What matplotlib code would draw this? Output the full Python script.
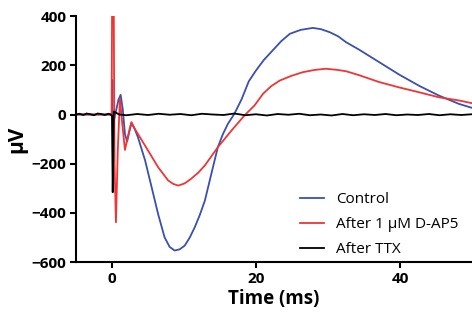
import numpy as np
import matplotlib.pyplot as plt

plt.rcParams['font.family'] = ['Open Sans', 'DejaVu Sans']

# Control (azul)
t_control = [-5, -2, -0.2, 0.0, 0.05, 0.15, 0.3, 0.6, 0.9, 1.2, 1.5, 1.8, 2.1, 2.4, 2.7,
             3.1, 3.6, 4.6, 5.5, 6.4, 7.3, 8.0, 8.7, 9.4, 10.1, 10.8, 11.5, 12.2, 12.9,
             13.8, 14.7, 15.4, 16.1, 17.0, 18.0, 19.0, 20.0, 21.1, 22.3, 23.5, 24.7,
             26.2, 27.9, 29.0, 30.2, 31.4, 32.5, 34.3, 37.1, 39.9, 42.7, 45.4, 48.2, 50]
v_control = [0, 0, 0, 0, 140, -250, -20, 20, 60, 80, 20, -80, -110, -70, -35,
             -55, -92, -187, -295, -404, -499, -538, -553, -548, -533, -500, -458, -408, -350,
             -241, -133, -80, -38, 3, 62, 135, 179, 222, 260, 298, 328,
             344, 352, 347, 335, 318, 294, 264, 213, 162, 116, 77, 43, 27]

# After 1 uM D-AP5 (rojo)
t_dap5 = [-5, -2, -0.2, -0.05, 0.05, 0.2, 0.35, 0.55, 0.8, 1.1, 1.4, 1.8, 2.2, 2.7,
          3.1, 3.6, 5.0, 6.4, 7.8, 8.5, 9.2, 10.1, 11.0, 12.0, 12.9, 14.7, 16.6, 18.4,
          19.8, 21.0, 22.1, 23.3, 24.9, 26.5, 28.1, 29.7, 31.1, 32.5, 34.3, 37.1, 39.9,
          42.7, 45.4, 48.2, 50]
v_dap5 = [0, 0, 0, 0, 700, 700, -200, -438, -150, 65, -30, -144, -90, -31,
          -55, -79, -146, -214, -268, -282, -289, -280, -261, -236, -207, -133, -65, -4,
          37, 85, 115, 138, 157, 172, 181, 186, 182, 176, 160, 132, 110, 90, 70, 57, 46]

# After TTX (negro)
t_ttx = [-5, -4.5, -4, -3.5, -3, -2.5, -2, -1.5, -1, -0.5, -0.2, 0.0, 0.1, 0.25, 0.5, 1.0,
         2, 3.5, 5, 6.5, 8, 9.5, 11, 12.5, 14, 15.5, 17, 18.5, 20, 21.5, 23, 24.5, 26,
         27.5, 29, 30.5, 32, 33.5, 35, 36.5, 38, 39.5, 41, 42.5, 44, 45.5, 47, 48.5, 50]
v_ttx = [0, 3, -2, 4, 1, -3, 4, 2, -2, 3, 0, -5, -316, 12, 8, 0,
         -3, 2, -2, 3, -1, 2, -3, 3, 0, -2, 4, -3, 1, -4, 2, -1, 3,
         -3, 0, -4, 2, -3, 1, -2, 2, -3, 0, -2, 2, -3, 1, -2, 1]

fig = plt.figure(figsize=(4.72, 3.22), dpi=100)
ax = fig.add_axes([0.161, 0.186, 0.839, 0.764])

ax.plot(t_control, v_control, color='#3a4fb0', lw=1.3, label='Control')
ax.plot(t_dap5, v_dap5, color='#f03434', lw=1.3, label='After 1 \u00b5M D-AP5')
ax.plot(t_ttx, v_ttx, color='k', lw=1.3, label='After TTX')

ax.set_xlim(-5, 50)
ax.set_ylim(-600, 400)
ax.set_xticks([0, 20, 40])
ax.set_yticks(np.arange(-600, 401, 200))
for s in ['top', 'right']:
    ax.spines[s].set_visible(False)
for s in ['left', 'bottom']:
    ax.spines[s].set_linewidth(1.5)
ax.tick_params(width=1.5, length=4, labelsize=11, pad=3)
for lab in ax.get_xticklabels() + ax.get_yticklabels():
    lab.set_fontweight('bold')
ax.set_xlabel('Time (ms)', fontsize=13.5, fontweight='bold', labelpad=2)
ax.set_ylabel('\u00b5V', fontsize=15, fontweight='bold', labelpad=3)

leg = ax.legend(loc='lower right', bbox_to_anchor=(1.0, -0.035), frameon=False,
                fontsize=11, handlelength=1.55, handletextpad=0.8, labelspacing=0.65)

plt.savefig('out.png', dpi=100)
